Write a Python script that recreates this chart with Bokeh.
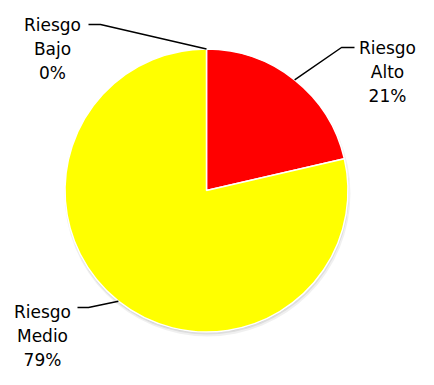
import math
from bokeh.plotting import figure
from bokeh.models import Range1d
from bokeh.core.properties import value
from bokeh.embed import file_html
from bokeh.resources import INLINE

# ---- data ----
categories = ["Alto", "Medio", "Bajo"]
shares = [21.4, 78.6, 0.0]
pct_labels = ["21%", "79%", "0%"]
colors = ["#FF0000", "#FFFF00", "#FFFF00"]
prefix = "Riesgo"

# ---- layout (picture pixel coordinates) ----
W, H = 418, 369


def Y(py):
    return H - py


cx, cy, r = 206.0, Y(190.0), 141.5
# per label: text center x, first baseline y, elbow point, end point
label_layout = {
    "Alto": dict(tx=387, ty=47, elbow=(341, 47), end=(354, 47)),
    "Bajo": dict(tx=52, ty=24, elbow=(100, 24), end=(88, 24)),
    "Medio": dict(tx=42, ty=311, elbow=(88, 307), end=(77, 307)),
}
LINE_STEP = 24
FONT = "DejaVu Sans"
FSIZE = "17px"

p = figure(width=W, height=H, x_range=Range1d(0, W), y_range=Range1d(0, H),
           output_backend="svg", toolbar_location=None, min_border=0)
p.axis.visible = False
p.grid.visible = False
p.outline_line_color = None
p.background_fill_color = "white"
p.border_fill_color = "white"

# soft shadow
for dx, dy, dr, a in [(1, -3, 1.5, 0.06), (0.5, -2, 0.5, 0.08), (0, -1, 0, 0.10)]:
    p.circle(x=[cx + dx], y=[cy + dy], radius=r + dr, fill_color="black",
             fill_alpha=a, line_color=None)

total = sum(shares)
cum = 0.0
mids = {}
for cat, s, col in zip(categories, shares, colors):
    f0 = cum / total
    f1 = (cum + s) / total
    cum += s
    mids[cat] = (f0 + f1) / 2 * 2 * math.pi  # clockwise from top
    if s <= 0:
        continue
    p.wedge(x=[cx], y=[cy], radius=r,
            start_angle=math.pi / 2 - f1 * 2 * math.pi,
            end_angle=math.pi / 2 - f0 * 2 * math.pi,
            direction="anticlock", fill_color=col, line_color="white", line_width=1.5)

for cat, pct in zip(categories, pct_labels):
    lay = label_layout[cat]
    th = mids[cat]
    px, py = cx + r * math.sin(th), cy + r * math.cos(th)
    xs = [px, lay["elbow"][0], lay["end"][0]]
    ys = [py, Y(lay["elbow"][1]), Y(lay["end"][1])]
    p.line(xs, ys, line_color="black", line_width=1.5)
    for i, t in enumerate([prefix, cat, pct]):
        p.text(x=[lay["tx"]], y=[Y(lay["ty"] + i * LINE_STEP)], text=[t],
               text_font=value(FONT), text_font_size=FSIZE, text_color="black",
               text_align="center", text_baseline="alphabetic")

open("out.html", "w").write(file_html(p, INLINE))
